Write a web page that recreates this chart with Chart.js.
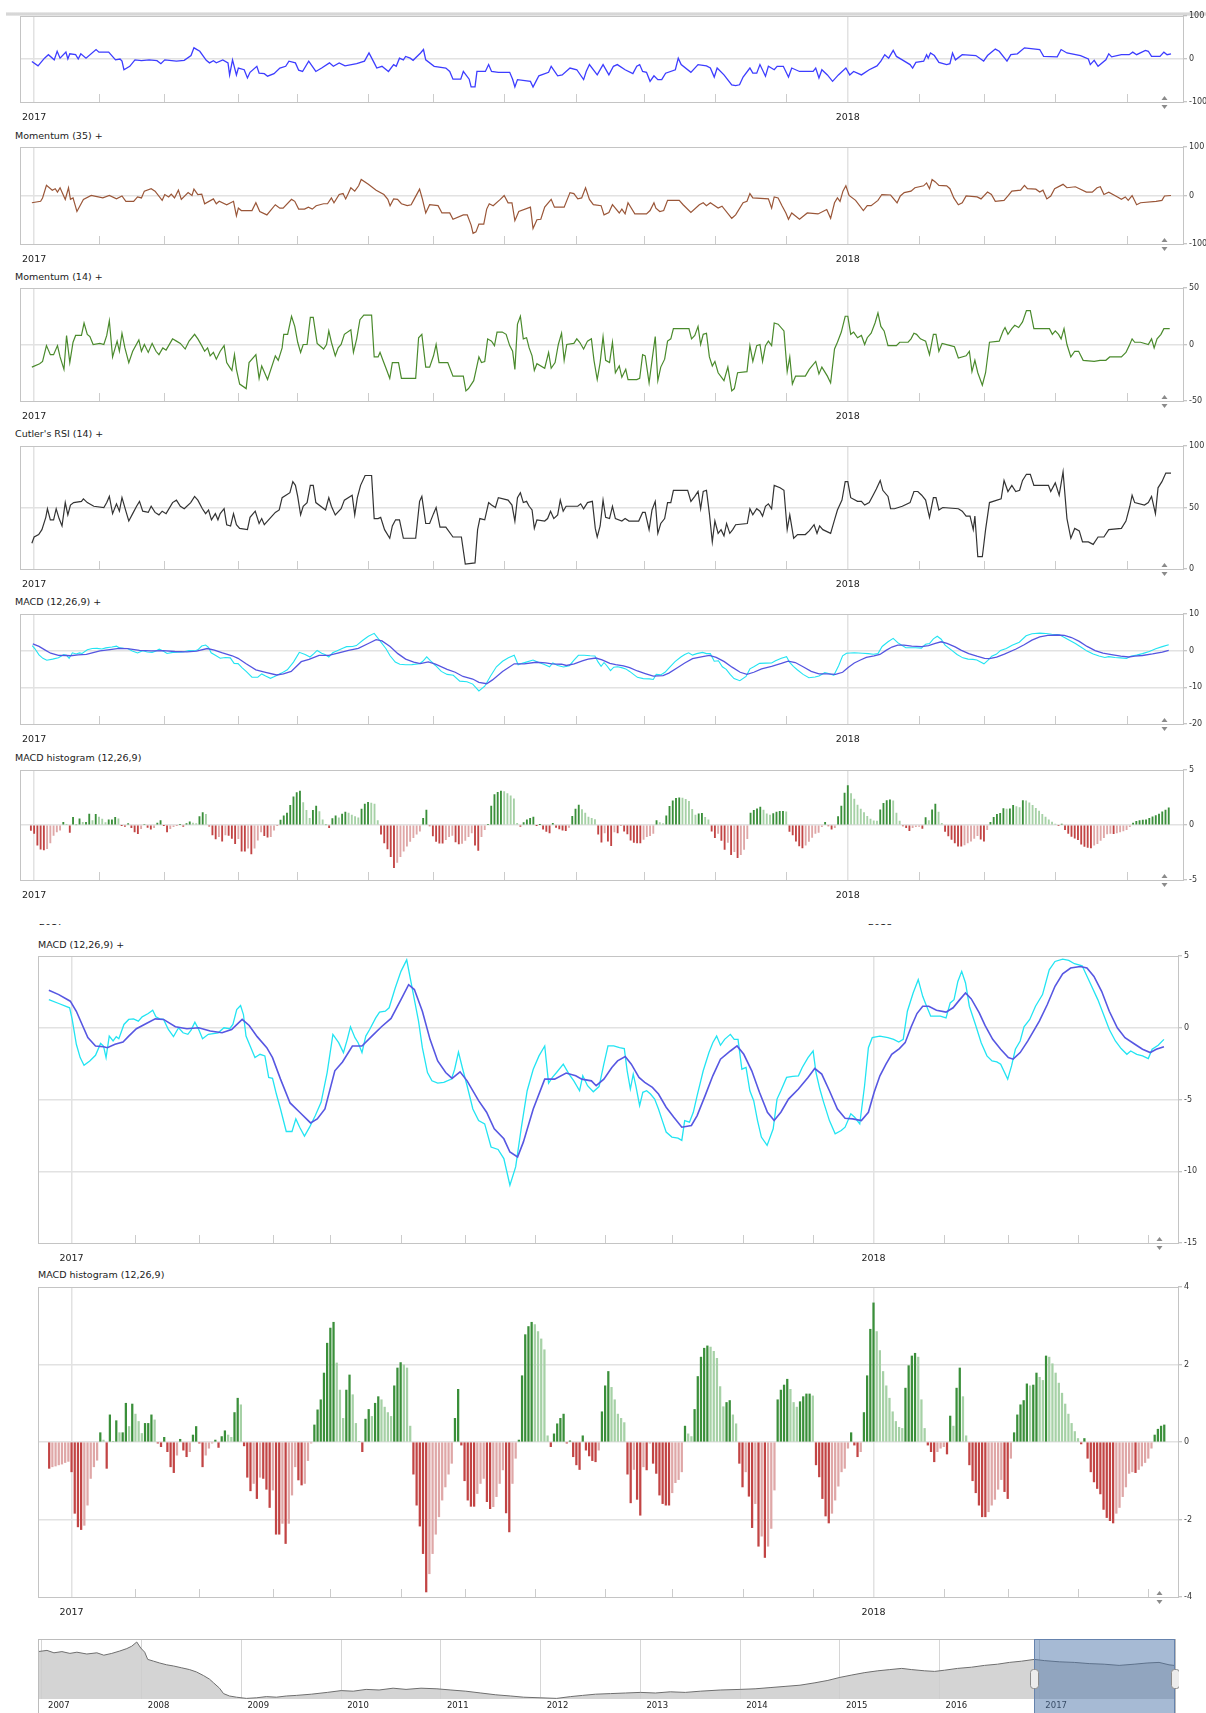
<!DOCTYPE html>
<html lang="en">
<head>
<meta charset="UTF-8">
<title>Indicators</title>
<script src="https://cdn.jsdelivr.net/npm/chart.js"></script>
<style>
  html, body { margin: 0; padding: 0; background: #fff; }
  body { width: 1206px; height: 1713px; overflow: hidden; position: relative; font-family: "DejaVu Sans", sans-serif; }
  canvas { position: absolute; }
  .title { position: absolute; font-size: 9.5px; line-height: 12px; color: #222; white-space: nowrap; }
  .topbar { position: absolute; left: 6px; top: 12px; width: 1200px; height: 4px; background: linear-gradient(#eeeeee, #cfcfcf 50%, #ececec); }
  .cut { position: absolute; height: 3px; overflow: hidden; }
  .cut span { display: block; font-size: 9.5px; line-height: 12px; margin-top: -8px; color: #222; }
</style>
</head>
<body>
<div class="topbar"></div>
<div class="title" style="left:15px;top:130px">Momentum (35) +</div>
<div class="title" style="left:15px;top:271px">Momentum (14) +</div>
<div class="title" style="left:15px;top:428px">Cutler's RSI (14) +</div>
<div class="title" style="left:15px;top:596px">MACD (12,26,9) +</div>
<div class="title" style="left:15px;top:752px">MACD histogram (12,26,9)</div>
<div class="cut" style="left:39px;top:924px;width:30px"><span>2017</span></div>
<div class="cut" style="left:868px;top:924px;width:30px"><span>2018</span></div>
<div class="title" style="left:38px;top:939px">MACD (12,26,9) +</div>
<div class="title" style="left:38px;top:1269px">MACD histogram (12,26,9)</div>

<script>
// x values are trading-day numbers, first session of 2017 = 0
var monthStarts = [0, 20, 40, 63, 81, 103, 123, 145, 167, 188, 210, 232, 251, 273, 293, 315, 337];
var yearLabels = { 0: '2017', 251: '2018' };

// [day, value]
var topOsc = [[-0.7,-6],[1.2,-16],[3.2,2],[4.4,10],[6.2,-2],[7.1,18],[8,2],[9.8,16],[10.4,0],[11,12],[12.8,10],[13.6,0],[14.4,12],[16,2],[19.1,22],[20,16],[23,16],[25.1,-2],[26.5,0],[27.1,-5],[27.7,-25],[29.5,-17],[31.1,-2],[33.1,-4],[35.5,-2],[37.9,-4],[39.1,-11],[40.3,-2],[43.9,-5],[46.3,-3],[48.4,8],[49.3,26],[51.1,18],[53.1,-3],[54.1,-9],[55.3,-4],[56.2,-9],[58.2,-2],[59.8,-9],[60.3,-37],[61.2,-2],[62.4,-37],[63,-21],[64.8,-25],[65.8,-44],[66.6,-31],[68.7,-17],[69.4,-33],[71,-34],[72,-40],[74,-34],[75.8,-21],[77.6,-17],[78.6,-5],[80.6,-9],[81.6,-26],[82.8,-29],[84.7,-5],[86.9,-29],[88.7,-21],[91.1,-9],[92.3,-17],[94.1,-9],[95.9,-16],[99.5,-11],[101.9,-5],[103.3,14],[104.9,-9],[105.7,-21],[107.3,-17],[109.3,-29],[110.9,-13],[111.7,-17],[112.7,2],[113.9,-2],[114.6,6],[116,2],[116.9,-3],[119.2,14],[120.1,22],[120.8,-2],[123.4,-17],[127,-21],[128.2,-29],[129.2,-47],[131.6,-47],[132.4,-29],[134.2,-47],[134.8,-65],[136,-65],[136.6,-29],[139.2,-29],[140.2,-13],[141.1,-29],[143.2,-31],[146.7,-31],[147.6,-47],[148.3,-65],[149.1,-48],[153.1,-52],[153.9,-65],[154.8,-52],[155.7,-39],[158.7,-31],[159.5,-17],[161.5,-39],[162.9,-37],[165.3,-21],[167.4,-25],[169.5,-48],[170.3,-29],[171.3,-13],[173.7,-37],[175.5,-13],[177.3,-37],[178.7,-17],[179.9,-13],[182.3,-25],[184.7,-34],[185.9,-17],[186.8,-13],[187.7,-29],[188.9,-31],[190,-52],[191.2,-39],[192.4,-48],[193.6,-48],[194.8,-33],[197.8,-25],[198.7,2],[199.6,-13],[202.6,-31],[204.8,-13],[207.4,-16],[208.6,-21],[209.8,-42],[210.7,-21],[212.8,-37],[215.2,-60],[216.4,-62],[217.6,-60],[218.7,-42],[220.8,-21],[221.7,-33],[222.9,-33],[223.9,-13],[225.6,-40],[226.5,-17],[228.3,-25],[229.2,-17],[231.1,-17],[232.7,-42],[233.7,-21],[236.1,-29],[240.3,-29],[241.1,-21],[242.1,-44],[243,-25],[244.7,-37],[246.3,-52],[248.1,-37],[250.4,-21],[251.6,-37],[252.8,-29],[255.2,-37],[257.6,-25],[260,-16],[261.2,-5],[262.4,10],[263.6,2],[265,20],[266,6],[267.8,-2],[270.2,-13],[271,-21],[272,-8],[274.4,-5],[275.3,10],[275.8,2],[276.5,14],[277.7,8],[279.1,-8],[281.5,-13],[282.5,-11],[283.3,14],[284.2,-2],[286.3,10],[290.5,8],[292.9,-5],[294.1,8],[296.5,23],[297.7,18],[300.1,-5],[301.3,10],[303.3,12],[305.5,26],[310.2,22],[311.4,6],[315.6,5],[316.8,22],[318.6,14],[322.8,8],[325.2,0],[325.8,-13],[327,-3],[328.2,-17],[330.6,-2],[331.5,12],[332.4,5],[335.4,10],[337.8,10],[338.9,16],[340.1,10],[342.8,20],[343.7,18],[344.7,6],[347.3,6],[348.5,16],[349.5,10],[350.7,12]];

var momentum35 = [[-0.7,-15],[2,-12],[2.6,-5],[3.8,21],[5.6,11],[6.5,14],[7.2,7],[8,16],[9.6,-8],[10.6,16],[11.2,-8],[12,-5],[13.2,-33],[15.2,-8],[17.6,0],[21.2,-5],[23.2,0],[25.4,-7],[27.1,-1],[28.3,-12],[30.7,-12],[31.9,-3],[33.1,-5],[34,9],[36.1,14],[37.3,9],[39.5,-10],[40.3,2],[41.5,-3],[42.3,3],[43.3,-5],[44.5,11],[45.4,-8],[47.5,6],[48.7,0],[49.3,13],[50.5,2],[51.7,3],[52.6,-17],[55.3,-7],[56.2,-17],[57.1,-12],[59.4,-19],[61.5,-12],[62.4,-42],[63,-26],[63.9,-31],[67.2,-31],[68.4,-15],[69.6,-33],[71.8,-40],[74.4,-19],[75.8,-26],[76.8,-26],[79.4,-8],[80.4,-12],[81.6,-28],[83.4,-28],[84.6,-24],[85.8,-28],[87,-21],[89.3,-17],[90.5,-17],[91.7,-5],[92.5,-15],[94.1,2],[95.3,4],[96.1,-7],[96.9,4],[97.7,16],[98.9,9],[100.1,20],[100.9,33],[103.1,23],[105.5,11],[107.9,2],[109.1,-8],[109.8,-21],[110.9,-7],[112.1,-8],[113.3,-17],[115.1,-21],[116.3,-19],[117.2,-8],[118.9,13],[119.8,-8],[120.8,-36],[122,-19],[124.6,-21],[125.8,-36],[128.2,-36],[129.2,-49],[132.4,-40],[133.6,-40],[134.8,-61],[135.4,-78],[136.3,-75],[137.2,-59],[138.7,-59],[139.6,-28],[140.4,-17],[141.6,-21],[143.8,-8],[145,0],[146.2,-15],[147.4,-15],[148.3,-52],[149.5,-33],[153.1,-24],[153.9,-68],[155.1,-50],[156.3,-49],[157.5,-24],[159.5,-8],[160.5,-24],[163.5,-24],[165.3,6],[166.5,4],[167.7,-7],[168.9,-5],[170.1,16],[171.3,-8],[172.5,-19],[174.9,-21],[175.8,-40],[177.3,-35],[178.4,-19],[180.5,-36],[181.3,-28],[182.3,-38],[183.2,-15],[185.3,-38],[188.9,-38],[190,-31],[191.2,-15],[191.8,-26],[193,-33],[194.2,-31],[195.4,-10],[199,-10],[200.2,-19],[202.6,-35],[205.2,-19],[206.4,-15],[207.4,-21],[208.6,-15],[211,-26],[212.2,-22],[215.2,-47],[216.4,-40],[218.7,-15],[219.9,-12],[220.8,4],[221.7,-5],[226.5,-7],[227.5,-26],[228.3,-3],[229.5,-5],[230.7,-21],[231.9,-36],[232.7,-49],[233.7,-36],[236.1,-49],[238.5,-36],[241.8,-38],[244.5,-29],[245.7,-47],[246.9,-15],[247.8,-5],[248.6,-12],[249.5,9],[250.4,20],[251.4,0],[253.4,-10],[255.8,-31],[257,-21],[258.2,-21],[260.3,-10],[261.5,2],[264.2,1],[266.2,-15],[267.2,-1],[268.4,6],[270.5,9],[271.7,16],[274.4,20],[275.3,26],[276.2,14],[277,33],[278,28],[279.1,21],[281.5,20],[282.5,14],[283.7,-5],[285.1,-19],[286.3,-15],[287.5,-1],[290.9,-3],[292.1,-7],[294.1,7],[295.3,2],[296.5,-12],[299.2,-10],[300.4,-1],[301.6,9],[304.3,11],[305.5,21],[306.4,14],[309,13],[310.2,7],[311.2,11],[312.4,-7],[313.6,-1],[314.8,14],[317.4,23],[318.6,16],[321.2,18],[324.6,7],[326.4,7],[327.9,16],[328.9,18],[330,2],[331.5,7],[334.2,-3],[335.4,-8],[336.6,-3],[337.5,-10],[338.7,0],[340.1,-19],[341.3,-15],[346.1,-12],[347.9,-10],[348.7,-1],[350.7,0]];

var momentum14 = [[-0.7,-20],[1.7,-17],[2.6,-15],[3.8,-1],[5,-9],[6,-9],[7.2,-1],[8,-11],[9.2,-22],[10,8],[11,-16],[12,2],[12.8,8],[14.6,8],[15.4,19],[16.4,9],[17.2,7],[18.2,0],[20.3,1],[21.5,0],[22.4,8],[23.2,21],[24.2,-11],[25.6,3],[26.3,-6],[27.1,10],[28,-3],[29.2,-16],[30.4,-6],[32.3,4],[33.1,-6],[34,0],[35.2,-7],[36.4,1],[37.6,-6],[38.5,-9],[39.7,-3],[40.7,-5],[42.7,5],[43.9,3],[45.1,1],[46.6,-4],[47.8,3],[49.5,9],[50.5,5],[51.7,-1],[52.6,-6],[53.5,-3],[54.3,-10],[55.3,-7],[56.2,-13],[57.4,-6],[58.6,-1],[59.4,-16],[60.3,-20],[61,-23],[61.8,-9],[62.4,-22],[63.4,-35],[65.4,-39],[66.3,-16],[68.4,-9],[69.4,-30],[70.2,-19],[72,-31],[74.4,-10],[75.3,-14],[76.5,-3],[77,9],[78.2,9],[79.4,25],[80.4,16],[81.3,2],[82.2,-7],[83,0],[84.2,0],[85.2,24],[86.1,24],[87.3,1],[89.3,-4],[90.2,0],[90.9,12],[91.7,2],[92.9,-10],[93.8,-3],[94.7,0],[95.7,9],[97.7,13],[98.5,-7],[99.5,5],[100.5,22],[101.7,26],[104.1,26],[104.9,-11],[106.1,-11],[106.7,-7],[107.6,-14],[108.8,-23],[109.7,-30],[110.5,-16],[112.4,-16],[113.3,-30],[117.7,-30],[118.6,6],[119.6,9],[120.8,-20],[122,-20],[123.2,-10],[124,0],[124.9,-16],[127.6,-16],[129.2,-28],[132.4,-28],[133.2,-41],[134,-39],[135.6,-32],[136.3,-23],[137.2,-11],[138,-16],[139,-15],[139.9,5],[141.1,3],[142,-1],[142.8,11],[144.4,11],[145.6,9],[146.7,-1],[147.6,-6],[148.3,-22],[149.1,18],[150,25],[150.9,5],[151.9,6],[152.7,-3],[153.6,-10],[154.3,-23],[155.1,-17],[157.5,-21],[158.7,-7],[159.5,-21],[160.7,-16],[161.7,0],[162.7,10],[163.5,-14],[164.3,0],[166.5,1],[167.4,5],[168.3,2],[169.5,-4],[170.7,3],[171.9,5],[172.7,-14],[173.7,-31],[174.6,-16],[175.5,7],[176.3,-14],[177.5,-16],[178.4,2],[179.3,-25],[180.5,-19],[181.3,-29],[182.5,-22],[183.2,-31],[185.9,-31],[186.8,-30],[187.7,-9],[188.5,-10],[189.7,-34],[190.6,-14],[191.6,7],[192.4,-32],[193.3,-20],[194.5,-13],[195.4,3],[196.4,5],[197.2,14],[202,14],[202.8,5],[203.8,8],[204.8,16],[205.6,0],[206.4,9],[207.4,10],[208.3,-11],[209.2,-19],[210,-15],[211,-25],[212.8,-32],[214,-20],[215.2,-41],[216,-39],[217,-25],[219.9,-24],[220.8,-1],[221.7,-15],[222.9,-1],[223.9,0],[224.7,-15],[225.6,-1],[226.5,3],[227.5,-1],[228.3,19],[229.5,18],[231.3,12],[232.3,-24],[233.1,-11],[233.9,-35],[234.9,-28],[237.9,-28],[239.1,-22],[241.1,-15],[242.1,-26],[243,-20],[244.7,-28],[245.7,-34],[246.9,-4],[247.8,2],[249,11],[250.2,25],[251,25],[251.9,9],[252.8,11],[254,6],[255.2,8],[256.2,0],[257,6],[258.2,10],[259.4,19],[260.3,28],[261.2,16],[262.2,12],[263.4,-1],[266,-1],[267,2],[269.6,2],[270.5,5],[271.4,10],[272.2,9],[273.4,5],[275,3],[276.2,-9],[277.4,9],[278.2,9],[279.1,-6],[280.1,1],[282.7,-1],[283.9,-2],[285.1,-12],[287.5,-10],[288.5,-6],[289.3,-24],[290.2,-14],[291.1,-25],[292.5,-36],[293.5,-25],[294.7,2],[297.7,3],[298.9,12],[299.5,15],[300.4,9],[301.6,14],[302.5,17],[303.7,15],[304.9,20],[306.1,30],[307.3,30],[308.4,14],[313.2,14],[314.1,9],[315,12],[316,9],[316.8,5],[317.7,14],[318.6,0],[319.8,-11],[321,-6],[322.2,-6],[323.6,-14],[327,-15],[328.8,-14],[330.6,-14],[331.8,-11],[335.4,-11],[336.8,-7],[337.8,-1],[338.7,5],[339.5,2],[341.3,2],[343.7,0],[344.7,5],[345.5,-3],[346.4,5],[347.6,9],[348.5,14],[350.3,14]];

var cutlerRsi = [[-0.7,21],[0,26],[1.4,28],[2.4,32],[3.6,42],[4.1,49],[5,40],[6,40],[6.8,49],[7.7,41],[8.6,35],[9.6,54],[10.4,44],[11.2,52],[12.2,54],[14.6,55],[15.2,57],[16.4,54],[18.4,51],[21.5,50],[22.4,54],[23.2,59],[24.2,45],[25.4,53],[26.3,47],[27.1,58],[28.3,47],[29.2,39],[30.4,45],[31.6,51],[32.5,55],[33.5,47],[35.2,46],[36.1,51],[37.3,46],[38.5,44],[39.5,47],[40.7,45],[42.7,54],[43.9,56],[45.1,51],[46.3,49],[48.3,54],[49.5,59],[50.5,56],[51.9,49],[52.9,45],[53.8,48],[54.7,40],[55.9,45],[56.7,40],[57.4,45],[58.6,49],[59.4,36],[60.6,35],[61.5,45],[62.4,36],[63.4,33],[65.8,32],[66.6,42],[68.2,47],[69.4,37],[70.2,41],[71,36],[74.4,46],[75.6,48],[76.5,58],[78.9,62],[79.8,71],[80.6,68],[81.3,59],[82.2,44],[83,51],[84.2,54],[85.2,68],[86.1,68],[86.9,54],[89.9,48],[90.9,58],[91.7,51],[92.9,44],[94.7,49],[95.7,56],[98.1,60],[98.9,44],[99.7,58],[100.7,68],[102.1,76],[104.1,76],[104.9,41],[106.1,41],[106.9,42],[108.1,32],[109.7,25],[110.5,35],[111.5,40],[112.7,40],[113.9,25],[117.7,25],[118.9,55],[119.6,59],[120.8,37],[122,37],[123.2,45],[124,50],[125.2,34],[127,34],[129.2,26],[131.8,26],[133,4],[136,5],[136.8,32],[137.5,41],[139,40],[140.2,54],[141.1,52],[142.3,50],[143.2,58],[146.2,56],[147.4,52],[148.3,39],[149.1,58],[150,62],[150.9,54],[151.9,55],[152.7,51],[153.6,48],[154.3,33],[155.1,40],[157.5,39],[158.4,41],[159.3,47],[160.3,41],[161.5,44],[162.3,56],[163.2,47],[164.1,51],[167.7,51],[168.6,53],[169.5,49],[170.7,54],[172.2,55],[173.1,33],[173.7,26],[174.6,35],[175.5,56],[176.3,42],[177.5,41],[178.4,51],[179.3,41],[181.3,39],[182.3,41],[183.5,39],[186.5,39],[187.7,46],[188.5,46],[189.7,32],[190.6,48],[191.6,55],[192.4,29],[193.3,37],[194.5,41],[195.4,54],[196.4,54],[197.2,64],[201.6,64],[202.6,55],[203.8,59],[204.8,63],[205.6,49],[206.4,63],[207.4,64],[208.3,45],[209.2,22],[210,39],[211,29],[211.9,32],[212.8,27],[213.6,37],[214.6,29],[215.5,32],[216.4,36],[220,37],[220.8,49],[221.7,44],[222.9,49],[223.9,47],[224.7,43],[225.6,51],[226.5,53],[227.5,49],[228.3,68],[230.1,66],[231.3,64],[232.3,32],[233.1,44],[234.3,25],[235.5,28],[237.9,28],[239.1,31],[240.6,36],[241.5,29],[242.3,35],[243.3,32],[245.7,29],[246.9,40],[247.8,48],[249.2,56],[250.2,71],[251,71],[251.9,58],[254,55],[255.2,55],[256.2,52],[257.6,54],[258.8,60],[259.8,65],[261,72],[261.8,64],[263.4,59],[264.2,49],[265.4,49],[267.8,51],[270.2,54],[271.4,63],[272.6,63],[273.8,60],[275,56],[276.2,42],[277.4,58],[278.2,58],[279.1,48],[280.3,50],[285.1,49],[286.3,47],[287.5,43],[288.7,43],[289.7,32],[290.2,43],[291.1,10],[292.5,10],[293.5,32],[294.7,54],[298.3,57],[299.2,72],[300.4,63],[301.6,68],[302.8,63],[304,64],[304.9,72],[306.1,77],[307.3,77],[308.4,68],[312.9,68],[313.6,63],[315,70],[316.2,60],[317.4,79],[318.6,41],[319.8,25],[321,33],[322.4,31],[323.4,22],[325.2,22],[326.7,20],[328.2,26],[330,26],[331.5,32],[335.4,33],[336.8,39],[338,51],[338.7,60],[339.5,54],[342.5,52],[343.7,54],[344.7,59],[345.9,45],[346.7,66],[347.9,71],[349.1,78],[350.7,78]];

var macdLine = [[-7.1,1.96],[-4,1.69],[-0.6,1.39],[0.2,0.58],[1.5,-1.15],[2.7,-2.08],[3.9,-2.61],[5.7,-2.31],[7.5,-1.92],[9.1,-1.09],[10,-1.27],[10.8,-2.08],[11.8,-0.58],[13,-0.92],[14,-0.62],[14.8,-0.76],[16.4,0.23],[17.9,0.58],[19.4,0.62],[20.9,0.46],[22.1,0.76],[24,0.99],[25.4,1.22],[26.4,0.76],[27.6,0.62],[28.8,0.58],[30.3,-0.12],[31.9,-0.62],[33.5,0],[34.9,-0.35],[36.4,-0.46],[37.4,-0.16],[38.6,0.39],[39.8,-0.12],[41,-0.76],[42.8,-0.46],[45.9,-0.35],[47.7,0],[49.5,-0.07],[50.5,0.23],[51.7,1.27],[52.9,1.55],[53.8,0.92],[54.6,-0.58],[55.9,-1.27],[57.4,-2.08],[59,-1.85],[60.5,-1.96],[61.7,-3.46],[62.9,-3.53],[64.1,-4.62],[65.4,-5.66],[67.2,-7.23],[69,-7.23],[70.2,-6.35],[71.4,-6.93],[72.9,-7.55],[74.5,-6.93],[76.3,-6.12],[78.1,-5.2],[80,-3.12],[81.8,-0.46],[83.6,-1.04],[85.1,-1.73],[86.3,-0.81],[87.3,0.07],[88.7,-0.69],[89.7,-1.04],[90.9,-1.73],[92.1,-0.58],[93.3,-0.12],[95.2,0.69],[96.4,1.09],[98.2,1.15],[99.4,1.39],[101.3,2.77],[103.1,3.93],[104.9,4.73],[106.7,2.66],[108.6,0.46],[109.8,-1.39],[111.4,-3.12],[112.8,-3.7],[114.6,-3.86],[116.5,-3.81],[118.9,-3.58],[119.9,-2.89],[121.1,-1.69],[122.3,-2.77],[123.8,-4.04],[125.6,-5.66],[127.4,-6.47],[129.3,-6.7],[131.3,-8.31],[133.5,-8.48],[135.3,-9.12],[137.2,-10.97],[139,-9.7],[140.8,-6.93],[142.6,-4.39],[144.5,-2.89],[146.3,-1.96],[148.1,-1.27],[149.3,-3.86],[150.5,-3.46],[151.8,-3.12],[153.9,-2.54],[155.7,-3.23],[157.2,-3.7],[159,-4.39],[160,-3.35],[161.5,-4.04],[163.3,-4.46],[165.1,-4.1],[166.6,-2.54],[167.9,-1.27],[169.7,-1.27],[171.5,-1.39],[173,-1.45],[173.9,-3],[174.9,-4.27],[175.8,-3.23],[176.6,-4.04],[177.8,-5.43],[178.8,-4.5],[180,-4.39],[181.2,-4.62],[182.5,-4.97],[183.7,-5.66],[184.9,-6.47],[186.1,-7.27],[187.9,-7.62],[189.8,-7.69],[191,-7.85],[191.9,-6.47],[193.4,-6.58],[194.6,-5.89],[195.8,-4.73],[197.7,-3],[199.5,-1.73],[200.7,-1.04],[201.9,-0.58],[203.1,-1.22],[204.4,-0.81],[206.2,-0.46],[207.4,-0.81],[208.6,-0.81],[209.8,-2.89],[211.1,-2.77],[212.3,-4.39],[213.5,-5.08],[214.7,-6.47],[215.9,-7.62],[217.7,-8.2],[219.6,-7.04],[220.8,-4.97],[222,-4.39],[223.8,-3.46],[225.7,-3.39],[227.5,-3.35],[228.7,-2.77],[230.5,-2.08],[232.1,-1.62],[233,-3.12],[234.2,-4.27],[235.4,-5.2],[237.2,-6.47],[239,-7.39],[240.9,-7.16],[242.1,-6.93],[243.9,-6],[245.1,-6.24],[246.7,-6.7],[248.2,-4.04],[249.4,-1.39],[250.6,-0.69],[253,-0.58],[255.5,-0.69],[257.3,-0.81],[258.9,-0.99],[260.3,-0.81],[261.6,1.15],[263.4,2.42],[265,3.35],[266.4,2.19],[267.4,1.62],[268.9,0.81],[271.9,0.81],[273.7,0.69],[275,1.73],[276.2,1.96],[277.4,3.23],[278.6,3.93],[279.8,3.12],[281,1.5],[282.9,0.23],[284.7,-1.04],[286.5,-1.96],[288.1,-2.31],[289.6,-2.38],[290.8,-2.54],[293,-3.58],[294.2,-2.66],[295.4,-1.5],[296.9,-0.92],[298.1,0.07],[299.9,0.58],[301.7,1.5],[303.9,2.31],[306,4.04],[307.8,4.62],[310.2,4.78],[312.1,4.69],[313.9,4.46],[316.3,4.32],[318.8,3.12],[321.2,1.96],[323,0.92],[324.8,-0.12],[326.7,-0.92],[328.5,-1.45],[330.3,-1.85],[331.5,-1.62],[333.4,-1.85],[335.2,-1.96],[337,-2.15],[338.2,-1.5],[340.1,-1.22],[341.9,-0.81],[344,-0.2],[346,0.5],[348,1.1],[350,1.6]];

var signalLine = [[-7.1,2.61],[-4,2.31],[-0.4,1.85],[1.5,1.15],[3.3,0.23],[5.1,-0.69],[7.5,-1.27],[10,-1.32],[11.2,-1.39],[13.6,-1.15],[16.1,-0.99],[17.9,-0.58],[20.3,-0.07],[23.4,0.3],[26.2,0.62],[28.8,0.58],[32.5,0.07],[36.1,-0.07],[39.8,0],[43.4,-0.23],[47.1,-0.35],[50.1,-0.12],[53.4,0.58],[55.6,0.16],[58.1,-0.62],[61.1,-1.39],[62.9,-2.08],[65.4,-3.58],[68.4,-5.24],[71.4,-5.89],[74.8,-6.63],[76.9,-6.35],[79.3,-5.66],[82.4,-3],[84.8,-2.38],[87.9,-1.27],[90.9,-1.27],[94,-0.58],[97,0.07],[100,0.65],[103.1,1.96],[105.5,3],[107.3,2.66],[109.8,1.15],[112.2,-0.81],[114.6,-2.31],[117.1,-3.12],[119.1,-3.53],[121.6,-3.07],[123.8,-3.7],[127.4,-5.08],[129.9,-5.89],[132.3,-7.04],[135.3,-7.74],[137.2,-8.66],[139.6,-9.01],[141.4,-7.97],[144.5,-5.66],[148.1,-3.58],[151.2,-3.58],[154.8,-3.16],[157.8,-3.35],[159.7,-3.58],[162.7,-3.7],[164.2,-4.04],[166.6,-3.58],[169.1,-2.77],[170.9,-2.31],[173.3,-2.01],[175.2,-2.54],[177.6,-3.46],[179.4,-3.81],[181.8,-4.16],[183.7,-4.62],[186.1,-5.54],[188.5,-6.24],[191,-6.93],[194,-6.81],[195.8,-6.12],[198.3,-4.73],[200.7,-3.35],[203.1,-2.19],[206.2,-1.62],[208.3,-1.27],[210.4,-1.85],[212.9,-3],[215.3,-4.5],[217.8,-5.89],[219.9,-6.47],[222,-5.89],[224.4,-4.97],[227.5,-4.27],[230.5,-3.46],[232.6,-2.84],[234.8,-3.23],[237.2,-4.39],[239.7,-5.66],[242.1,-6.31],[244.5,-6.35],[247.2,-6.47],[249.4,-5.89],[251.2,-4.5],[253,-3.35],[254.9,-2.54],[256.7,-1.85],[259.1,-1.45],[260.9,-1.04],[262.8,0.07],[264.6,0.99],[266.4,1.5],[268.3,1.5],[270.7,1.22],[273.7,1.09],[275.9,1.39],[278,1.96],[279.8,2.42],[281.6,2.01],[284.1,1.04],[285.9,0.16],[288.3,-0.81],[290.8,-1.5],[293.2,-2.08],[294.7,-2.19],[296.9,-1.73],[299.3,-0.92],[302.9,0.46],[305.4,1.62],[307.8,2.89],[310.2,3.76],[312.7,4.16],[315.7,4.27],[317.8,4.16],[320,3.58],[322.4,2.54],[324.8,1.15],[327.3,0],[329.7,-0.69],[332.8,-1.15],[335.2,-1.5],[337.6,-1.73],[339.5,-1.5],[341.9,-1.32],[345,-0.9],[348,-0.4],[350,0.1]];

// one bar per session, starting at day -7
var histFirstDay = -7;
var macdHist = [
  -0.68,-0.64,-0.62,-0.59,-0.57,-0.53,-0.50,
  -0.77,-1.84,-2.19,-2.26,-2.15,-1.63,-0.94,-0.64,-0.47,0.24,
  0.05,-0.68,0.70,0.01,0.55,0.24,0.24,1.00,0.40,0.98,
  0.72,0.53,0.22,0.48,0.48,0.70,0.57,-0.03,-0.12,0.12,
  -0.25,-0.64,-0.79,-0.34,0.07,-0.21,-0.38,-0.25,0.18,0.40,
  -0.03,-0.64,-0.34,-0.16,-0.03,0.05,-0.14,0.14,0.29,0.18,
  0.12,0.76,1.13,0.96,-0.10,-0.91,-1.26,-1.07,-1.46,-0.91,
  -0.94,-1.22,-1.69,-1.24,-2.38,-2.38,-2.10,-2.62,-2.10,-1.37,
  -0.64,-0.98,-1.11,-1.07,-0.48,-0.03,0.44,0.83,1.09,1.78,
  2.55,2.94,3.09,2.04,1.34,0.61,1.34,1.73,1.22,0.48,
  0.01,-0.25,0.59,0.84,0.66,1.00,1.17,1.09,0.90,0.76,
  0.66,1.45,1.91,2.05,1.99,1.91,0.41,-0.83,-1.63,-2.17,
  -2.88,-3.87,-3.40,-2.88,-2.38,-1.93,-1.50,-1.16,-0.83,-0.55,
  0.61,1.36,-0.08,-1.00,-1.50,-1.66,-1.66,-1.33,-1.07,-0.94,
  -1.54,-1.72,-1.67,-1.41,-1.07,-0.72,-1.83,-2.32,-1.07,-0.42,
  0.05,1.71,2.77,2.98,3.09,3.03,2.85,2.66,2.38,0.16,
  -0.12,0.21,0.47,0.61,0.72,-0.03,0.03,-0.38,-0.59,-0.71,
  0.16,-0.21,-0.36,-0.48,-0.51,-0.21,
  0.78,1.45,1.82,1.41,1.09,0.72,0.61,0.50,
  -0.83,-1.57,-0.71,-1.48,-1.89,-0.64,-0.72,-0.03,-0.55,-0.81,-1.37,-1.59,-1.63,-1.63,-1.31,-1.05,-0.97,-0.77,
  0.41,0.21,0.14,0.84,1.69,2.19,2.42,2.48,2.45,2.34,2.16,1.43,0.91,1.02,1.07,0.70,0.47,
  -0.55,-1.16,-0.77,-1.40,-2.21,-1.59,-2.69,-2.43,-2.98,-2.69,-2.23,-1.24,
  1.09,1.34,1.47,1.62,1.36,1.02,0.90,1.04,1.17,1.24,1.24,1.19,
  -0.59,-0.90,-1.46,-1.91,-2.09,-1.84,-1.50,-1.14,-0.77,-0.68,-0.16,
  0.24,-0.08,-0.38,-0.25,
  0.76,1.71,2.91,3.59,2.85,2.36,1.82,1.45,1.13,0.78,0.53,0.38,0.35,
  1.39,1.97,2.22,2.29,2.19,1.09,0.35,
  -0.08,-0.25,-0.51,-0.25,-0.16,-0.12,-0.31,
  0.67,0.41,1.39,1.91,1.17,0.16,
  -0.59,-1.00,-1.31,-1.63,-1.93,-1.93,-1.80,-1.63,-1.48,-1.22,-0.97,-1.28,-1.46,-0.42,
  0.24,0.70,0.96,1.07,1.50,1.45,1.47,1.78,1.67,1.59,2.22,2.19,2.02,1.78,1.52,1.26,0.98,0.72,0.48,0.27,0.09,
  -0.05,0.09,
  -0.42,-0.77,-1.03,-1.20,-1.34,-1.74,-1.95,-2.03,-2.09,-1.84,-1.69,-1.41,-1.16,-0.81,-0.77,-0.79,-0.71,-0.62,-0.53,-0.42,-0.16,
  0.18,0.33,0.41,0.44,0.47,
  0.60,0.75,0.85,1.00,1.20,1.35,1.55
];

// long history for the range navigator: [year, level]
var navYears = [2007, 2008, 2009, 2010, 2011, 2012, 2013, 2014, 2015, 2016, 2017];
var navHistory = [[2006.96,79],[2007.05,81],[2007.12,77],[2007.2,79],[2007.28,76],[2007.35,78],[2007.45,75],[2007.55,77],[2007.62,73],[2007.7,76],[2007.78,80],[2007.85,84],[2007.9,88],[2007.95,95],[2007.99,85],[2008.03,78],[2008.06,66],[2008.12,63],[2008.18,60],[2008.25,57],[2008.32,55],[2008.4,52],[2008.48,49],[2008.55,45],[2008.62,39],[2008.68,33],[2008.72,27],[2008.78,18],[2008.82,9],[2008.88,5],[2008.95,3],[2009.05,1],[2009.15,2],[2009.25,4],[2009.35,3],[2009.45,5],[2009.55,6],[2009.7,8],[2009.86,11],[2010.0,14],[2010.12,13],[2010.25,16],[2010.38,15],[2010.52,18],[2010.65,16],[2010.8,18],[2010.96,17],[2011.1,15],[2011.25,13],[2011.4,10],[2011.55,7],[2011.7,5],[2011.83,3],[2012.0,2],[2012.16,1],[2012.3,4],[2012.42,6],[2012.55,8],[2012.7,9],[2012.85,10],[2013.0,11],[2013.15,10],[2013.3,12],[2013.45,11],[2013.6,13],[2013.8,15],[2014.0,16],[2014.15,17],[2014.3,19],[2014.45,21],[2014.6,23],[2014.75,27],[2014.88,31],[2015.0,36],[2015.12,40],[2015.25,44],[2015.38,47],[2015.5,49],[2015.62,51],[2015.72,49],[2015.85,47],[2015.95,46],[2016.05,48],[2016.18,51],[2016.32,53],[2016.45,56],[2016.58,58],[2016.7,61],[2016.82,63],[2016.95,66],[2017.05,64],[2017.2,62],[2017.35,61],[2017.5,59],[2017.65,58],[2017.8,56],[2017.95,58],[2018.08,60],[2018.2,61],[2018.3,57],[2018.35,56]];
var selectionStart = 2016.945;

Chart.defaults.font.family = '"DejaVu Sans", sans-serif';
Chart.defaults.color = '#333';

var PAD_L = 4, PAD_T = 8, AXIS_W = 30, AXIS_H = 28;
var SMALL_X = [-4.3, 354.4], BIG_X = [-10.5, 346.3];

function pts(pairs) {
  return pairs.map(function (p) { return { x: p[0], y: p[1] }; });
}

function addCanvas(box) {
  var c = document.createElement('canvas');
  c.width = box.right - box.left + PAD_L + AXIS_W;
  c.height = box.bottom - box.top + PAD_T + AXIS_H;
  c.style.left = (box.left - PAD_L) + 'px';
  c.style.top = (box.top - PAD_T) + 'px';
  document.body.appendChild(c);
  return c;
}

// frame, month ticks along the bottom, and the little up/down arrows
var panelFrame = {
  id: 'panelFrame',
  beforeDatasetsDraw: function (chart) {
    var a = chart.chartArea, ctx = chart.ctx, xs = chart.scales.x;
    ctx.save();
    ctx.lineWidth = 1;
    ctx.strokeStyle = '#cccccc';
    monthStarts.forEach(function (d) {
      if (yearLabels[d]) return;
      var px = Math.round(xs.getPixelForValue(d)) + 0.5;
      ctx.beginPath();
      ctx.moveTo(px, a.bottom);
      ctx.lineTo(px, a.bottom - 8);
      ctx.stroke();
    });
    ctx.strokeStyle = '#c4c4c4';
    ctx.strokeRect(Math.round(a.left) + 0.5, Math.round(a.top) + 0.5,
                   Math.round(a.right - a.left), Math.round(a.bottom - a.top));
    ctx.restore();
  },
  afterDraw: function (chart) {
    var a = chart.chartArea, ctx = chart.ctx;
    var cx = Math.round(a.right - 19) + 0.5, cy = Math.round(a.bottom);
    ctx.save();
    ctx.fillStyle = '#8a8a8a';
    ctx.beginPath(); ctx.moveTo(cx - 3, cy - 2); ctx.lineTo(cx + 3, cy - 2); ctx.lineTo(cx, cy - 6); ctx.closePath(); ctx.fill();
    ctx.beginPath(); ctx.moveTo(cx - 3, cy + 3); ctx.lineTo(cx + 3, cy + 3); ctx.lineTo(cx, cy + 7); ctx.closePath(); ctx.fill();
    ctx.restore();
  }
};

function indicatorPanel(box, xRange, yTicks, gridAt, type, datasets) {
  var canvas = addCanvas(box);
  return new Chart(canvas, {
    type: type,
    data: { datasets: datasets },
    options: {
      responsive: false,
      animation: false,
      events: [],
      layout: { padding: { left: PAD_L, top: PAD_T, right: 0, bottom: 0 } },
      plugins: { legend: { display: false }, tooltip: { enabled: false } },
      scales: {
        x: {
          type: 'linear',
          min: xRange[0],
          max: xRange[1],
          offset: false,
          afterBuildTicks: function (scale) {
            scale.ticks = monthStarts.map(function (d) { return { value: d }; });
          },
          afterFit: function (scale) { scale.height = AXIS_H; },
          border: { display: false },
          grid: {
            offset: false,
            drawTicks: false,
            lineWidth: 1.5,
            color: function (c) {
              return c.tick && yearLabels[c.tick.value] ? '#e2e2e2' : 'rgba(0,0,0,0)';
            }
          },
          ticks: {
            autoSkip: false,
            maxRotation: 0,
            padding: 10,
            color: '#222',
            font: { size: 9.5 },
            callback: function (v) { return yearLabels[v] || ''; }
          }
        },
        y: {
          position: 'right',
          min: yTicks[yTicks.length - 1],
          max: yTicks[0],
          afterBuildTicks: function (scale) {
            scale.ticks = yTicks.map(function (v) { return { value: v }; });
          },
          afterFit: function (scale) { scale.width = AXIS_W; },
          border: { display: false },
          grid: {
            lineWidth: 1.5,
            tickLength: 4,
            tickWidth: 1,
            tickColor: '#b4b4b4',
            color: function (c) {
              return c.tick && gridAt.indexOf(c.tick.value) >= 0 ? '#e2e2e2' : 'rgba(0,0,0,0)';
            }
          },
          ticks: { padding: 2, color: '#333', font: { size: 8 } }
        }
      }
    },
    plugins: [panelFrame]
  });
}

function lineSet(pairs, color, width) {
  return {
    data: pts(pairs), borderColor: color, borderWidth: width,
    pointRadius: 0, fill: false, tension: 0
  };
}

function within(pairs, from, to) {
  return pairs.filter(function (p) { return p[0] >= from && p[0] <= to; });
}

function histSet(from, to, thickness) {
  var bars = [];
  macdHist.forEach(function (v, i) {
    var d = histFirstDay + i;
    if (d >= from && d <= to) bars.push({ x: d, y: v });
  });
  // darker shade while the bar is growing away from zero
  var colors = bars.map(function (b, i) {
    var prev = i > 0 ? bars[i - 1].y : 0;
    var growing = Math.abs(b.y) >= Math.abs(prev) || (prev >= 0) !== (b.y >= 0);
    if (b.y >= 0) return growing ? '#3a8f3a' : '#a6d1a6';
    return growing ? '#c24444' : '#dfa7a7';
  });
  return { data: bars, backgroundColor: colors, barThickness: thickness, borderWidth: 0 };
}

indicatorPanel({ left: 16, top: 16, right: 1183, bottom: 102 }, SMALL_X, [100, 0, -100], [0], 'line',
  [lineSet(topOsc, '#3d3dff', 1.3)]);

indicatorPanel({ left: 16, top: 147, right: 1183, bottom: 244 }, SMALL_X, [100, 0, -100], [0], 'line',
  [lineSet(momentum35, '#9a5638', 1.2)]);

indicatorPanel({ left: 16, top: 288, right: 1183, bottom: 401 }, SMALL_X, [50, 0, -50], [0], 'line',
  [lineSet(momentum14, '#4a8a2c', 1.2)]);

indicatorPanel({ left: 16, top: 446, right: 1183, bottom: 569 }, SMALL_X, [100, 50, 0], [50], 'line',
  [lineSet(cutlerRsi, '#333333', 1.2)]);

indicatorPanel({ left: 16, top: 614, right: 1183, bottom: 724 }, SMALL_X, [10, 0, -10, -20], [0, -10], 'line',
  [lineSet(within(signalLine, -1, 351), '#5555e0', 1.3),
   lineSet(within(macdLine, -1, 351), '#22e4f2', 1.1)]);

indicatorPanel({ left: 16, top: 770, right: 1183, bottom: 880 }, SMALL_X, [5, 0, -5], [0], 'bar',
  [histSet(-1, 350, 1.2)]);

indicatorPanel({ left: 38, top: 956, right: 1178, bottom: 1243 }, BIG_X, [5, 0, -5, -10, -15], [0, -5, -10], 'line',
  [lineSet(within(signalLine, -8, 342), '#5757e2', 1.6),
   lineSet(within(macdLine, -8, 342), '#22e4f2', 1.3)]);

indicatorPanel({ left: 38, top: 1287, right: 1178, bottom: 1597 }, BIG_X, [4, 2, 0, -2, -4], [2, 0, -2], 'bar',
  [histSet(-7, 342, 1.6)]);

// range navigator with the selected window
var navSelection = {
  id: 'navSelection',
  afterDraw: function (chart) {
    var a = chart.chartArea, ctx = chart.ctx, xs = chart.scales.x;
    var x0 = Math.round(xs.getPixelForValue(selectionStart)), x1 = Math.round(a.right);
    var h = chart.height;
    ctx.save();
    ctx.strokeStyle = '#bcbcbc';
    ctx.lineWidth = 1;
    ctx.strokeRect(Math.round(a.left) + 0.5, Math.round(a.top) + 0.5, Math.round(a.right - a.left), h);
    ctx.fillStyle = 'rgba(78, 118, 170, 0.5)';
    ctx.fillRect(x0, a.top, x1 - x0, h - a.top);
    ctx.strokeStyle = '#6683ad';
    ctx.strokeRect(x0 + 0.5, Math.round(a.top) + 0.5, x1 - x0 - 1, h);
    [x0, x1].forEach(function (gx) {
      ctx.fillStyle = '#ececec';
      ctx.strokeStyle = '#8c8c8c';
      ctx.beginPath();
      if (ctx.roundRect) ctx.roundRect(gx - 4 + 0.5, a.top + 30.5, 8, 19, 3);
      else ctx.rect(gx - 4 + 0.5, a.top + 30.5, 8, 19);
      ctx.fill();
      ctx.stroke();
    });
    ctx.restore();
  }
};

(function navigatorPanel() {
  var box = { left: 38, top: 1639, right: 1175, bottom: 1699 };
  var c = document.createElement('canvas');
  c.width = box.right - box.left + 8;
  c.height = 90;
  c.style.left = (box.left - 4) + 'px';
  c.style.top = (box.top - 4) + 'px';
  document.body.appendChild(c);
  new Chart(c, {
    type: 'line',
    data: {
      datasets: [{
        data: pts(navHistory), borderColor: '#6e6e6e', borderWidth: 1,
        backgroundColor: 'rgba(205,205,205,0.85)', fill: 'start', pointRadius: 0, tension: 0
      }]
    },
    options: {
      responsive: false,
      animation: false,
      events: [],
      layout: { padding: { left: 4, top: 4, right: 4, bottom: 0 } },
      plugins: { legend: { display: false }, tooltip: { enabled: false } },
      scales: {
        x: {
          type: 'linear',
          min: 2006.96,
          max: 2018.36,
          offset: false,
          afterBuildTicks: function (scale) {
            scale.ticks = navYears.map(function (y) { return { value: y }; });
          },
          afterFit: function (scale) { scale.height = c.height - 4 - (box.bottom - box.top); },
          border: { display: false },
          grid: { offset: false, drawTicks: false, color: '#d6d6d6', lineWidth: 1 },
          ticks: {
            autoSkip: false, maxRotation: 0, align: 'start', labelOffset: 6, padding: 2,
            color: '#222', font: { size: 8.5 },
            callback: function (v) { return String(v); }
          }
        },
        y: { display: false, min: 0, max: 100 }
      }
    },
    plugins: [navSelection]
  });
})();
</script>
</body>
</html>
